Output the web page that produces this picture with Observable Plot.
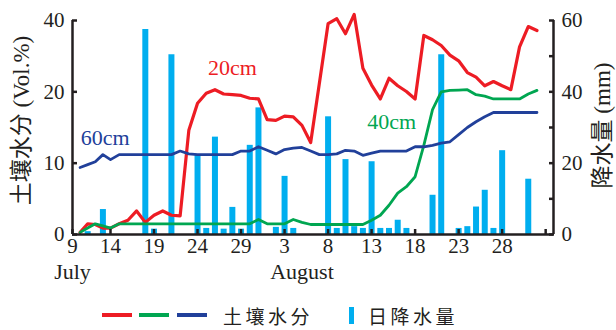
<!DOCTYPE html>
<html><head><meta charset="utf-8">
<script src="https://cdn.jsdelivr.net/npm/d3@7"></script>
<script src="https://cdn.jsdelivr.net/npm/@observablehq/plot@0.6"></script>
<style>
body{margin:0;background:#fff;}
#wrap{width:616px;}
#chart svg{display:block;}
#legend{display:flex;align-items:center;box-sizing:border-box;width:616px;height:34px;padding:4px 0 0 102px;font-family:"Noto Sans CJK SC",sans-serif;color:#231f20;font-size:19px;}
#legend .sw{display:inline-block;width:30px;height:4px;flex:none;}
#legend .bar{display:inline-block;width:5px;height:17px;flex:none;}
#legend .t{white-space:nowrap;letter-spacing:3.5px;}
</style></head><body>
<div id="wrap"><div id="chart"></div><div id="legend"></div></div>
<script>
// day index: July d -> d, August d -> 31 + d
const days = [10,11,12,13,14,15,16,17,18,19,20,21,22,23,24,25,26,27,28,29,30,31,32,33,34,35,36,37,38,39,40,41,42,43,44,45,46,47,48,49,50,51,52,53,54,55,56,57,58,59,60,61,62,63];
// soil moisture (Vol.%)
const soil20 = [0.3,1.5,1.4,0.9,0.9,1.5,2.0,3.3,1.7,2.7,3.3,2.7,2.6,14.6,18.4,19.8,20.6,19.7,19.6,19.5,19.1,19.0,16.1,16.0,16.6,16.5,15.3,12.9,22.4,39.1,40.5,36.3,41.7,26.6,21.9,19.0,23.8,21.7,20.1,19.0,35.8,34.6,33.0,30.3,28.7,25.4,24.1,21.7,22.9,21.7,20.6,32.6,38.3,37.2];
const soil40 = [0.3,0.9,1.5,1.2,0.9,1.5,1.5,1.5,1.5,1.5,1.5,1.5,1.5,1.5,1.5,1.5,1.5,1.5,1.5,1.5,1.5,2.1,1.5,1.5,1.5,2.1,1.7,1.4,1.4,1.4,1.4,1.4,1.4,1.4,2.0,2.7,4.1,5.8,6.7,8.1,12.5,17.5,20.0,20.4,20.5,20.6,19.6,19.4,19.0,19.0,19.0,19.0,19.7,20.4];
const soil60 = [9.4,9.8,10.2,11.2,10.5,11.2,11.2,11.2,11.2,11.2,11.2,11.2,11.7,11.3,11.2,11.2,11.2,11.2,11.2,11.7,11.7,12.3,11.8,11.3,11.9,12.1,12.2,11.7,11.2,11.2,11.3,11.8,11.7,11.1,11.4,11.7,11.7,11.7,11.7,12.3,12.3,12.5,12.8,13.0,14.0,15.0,15.8,16.5,17.1,17.1,17.1,17.1,17.1,17.1];
// daily precipitation (mm)
const rainDays = [11,13,18,19,21,24,25,26,27,28,29,30,31,33,34,35,39,40,41,42,43,44,45,46,47,48,51,52,54,55,56,57,58,59,62];
const rainMM   = [0.8,7.0,57.5,1.5,50.4,22.3,1.7,27.3,1.5,7.6,1.5,25.0,35.5,2.0,16.3,1.7,33.0,1.7,21.0,2.2,1.7,20.4,1.7,1.7,4.0,1.7,11.0,50.4,1.7,2.2,7.7,12.4,1.7,23.5,15.5];
// axes
const xDomain = [9, 14, 64.9];
const xTickValues = [9,14,19,24,29,34,39,44,49,54,59,64];
const xTickLabels = ["9","14","19","24","29","3","8","13","18","23","28",""];
const months = ["July","August"];
const monthDays = [9, 36];
const leftTicks = [0,10,20,40];
const rightTicksMM = [0,10,20,30,40,50,60];
const rightLabelsMM = [0,20,40,60];
const seriesNames = ["20cm","40cm","60cm"];
const labelDays = [28.0, 46.3, 13.3];
const labelValues = [26.7, 15.8, 13.5];

const red = "#ed1c24", green = "#00a651", blue = "#21409a", cyan = "#00aeef", ink = "#231f20";
const colors = [red, green, blue];

// right axis (mm) shares the frame with the left axis: 0,20,40,60 mm <-> 0,10,20,40 Vol.%
const mmToSoil = d3.scaleLinear().domain([0,20,40,60]).range([0,10,20,40]);

const soil = days.map((d, i) => ({day: d, v20: soil20[i], v40: soil40[i], v60: soil60[i]}));
const rain = rainDays.map((d, i) => ({day: d, mm: rainMM[i]}));
const labels = seriesNames.map((s, i) => ({label: s, day: labelDays[i], value: labelValues[i], color: colors[i]}));
const rightTicks = rightTicksMM.map(mmToSoil);

const plot = Plot.plot({
  width: 616, height: 296,
  marginTop: 20, marginBottom: 62, marginLeft: 72, marginRight: 63,
  style: {fontFamily: "'Liberation Serif','Noto Sans CJK SC',serif", fontSize: "21px", color: ink, background: "#fff", overflow: "visible"},
  x: {type: "linear", domain: xDomain, range: [72, 110, 553], label: null},
  y: {type: "linear", domain: leftTicks, label: null},
  marks: [
    Plot.ruleX(rain, {x: "day", y1: 0, y2: d => mmToSoil(d.mm), stroke: cyan, strokeWidth: 6}),
    Plot.line(soil, {x: "day", y: "v20", stroke: red, strokeWidth: 3.2}),
    Plot.line(soil, {x: "day", y: "v40", stroke: green, strokeWidth: 2.8}),
    Plot.line(soil, {x: "day", y: "v60", stroke: blue, strokeWidth: 2.8}),
    ...labels.map(l => Plot.text([l], {x: "day", y: "value", text: "label", fill: l.color, fontSize: 22})),
    Plot.ruleX([xDomain[0], xDomain[xDomain.length - 1]], {stroke: ink, strokeWidth: 2.5}),
    Plot.ruleY([0], {stroke: ink, strokeWidth: 2.5}),
    Plot.axisX(xTickValues, {tickSize: -5, fill: "none", stroke: ink, strokeWidth: 2.5, label: null}),
    Plot.axisX(xTickValues, {tickSize: 0, tickPadding: 4, stroke: "none", fill: ink, fontSize: 21, label: null,
      tickFormat: d => xTickLabels[xTickValues.indexOf(d)]}),
    Plot.axisY(leftTicks, {anchor: "left", tickSize: -5, fill: "none", stroke: ink, strokeWidth: 2.5, label: null}),
    Plot.axisY(leftTicks, {anchor: "left", tickSize: 0, tickPadding: 8, stroke: "none", fill: ink, fontSize: 21, label: null, tickFormat: d => String(d)}),
    Plot.axisY(rightTicks, {anchor: "right", tickSize: -5, fill: "none", stroke: ink, strokeWidth: 2.5, label: null}),
    Plot.axisY(rightTicks, {anchor: "right", tickSize: 0, tickPadding: 8, stroke: "none", fill: ink, fontSize: 21, label: null,
      tickFormat: d => { const mm = rightTicksMM[rightTicks.indexOf(d)]; return rightLabelsMM.includes(mm) ? String(mm) : ""; }}),
    Plot.text(months, {x: (d, i) => monthDays[i], frameAnchor: "bottom", dy: 44, text: d => d, fontSize: 22, fill: ink}),
    Plot.text(["土壤水分 (Vol.%)"], {frameAnchor: "left", textAnchor: "middle", dx: -51, dy: -7, rotate: -90, text: d => d, fontSize: 23, fill: ink}),
    Plot.text(["降水量 (mm)"], {frameAnchor: "right", textAnchor: "middle", dx: 49, dy: -2, rotate: -90, text: d => d, fontSize: 23, fill: ink})
  ]
});
document.getElementById("chart").append(plot);

const legend = document.getElementById("legend");
legend.innerHTML =
  `<span class="sw" style="background:${red};margin-right:7px"></span>` +
  `<span class="sw" style="background:${green};margin-right:8px"></span>` +
  `<span class="sw" style="background:${blue};margin-right:16px"></span>` +
  `<span class="t" style="margin-right:36px">土壤水分</span>` +
  `<span class="bar" style="background:${cyan};margin-right:14px"></span>` +
  `<span class="t">日降水量</span>`;
</script>
</body></html>
